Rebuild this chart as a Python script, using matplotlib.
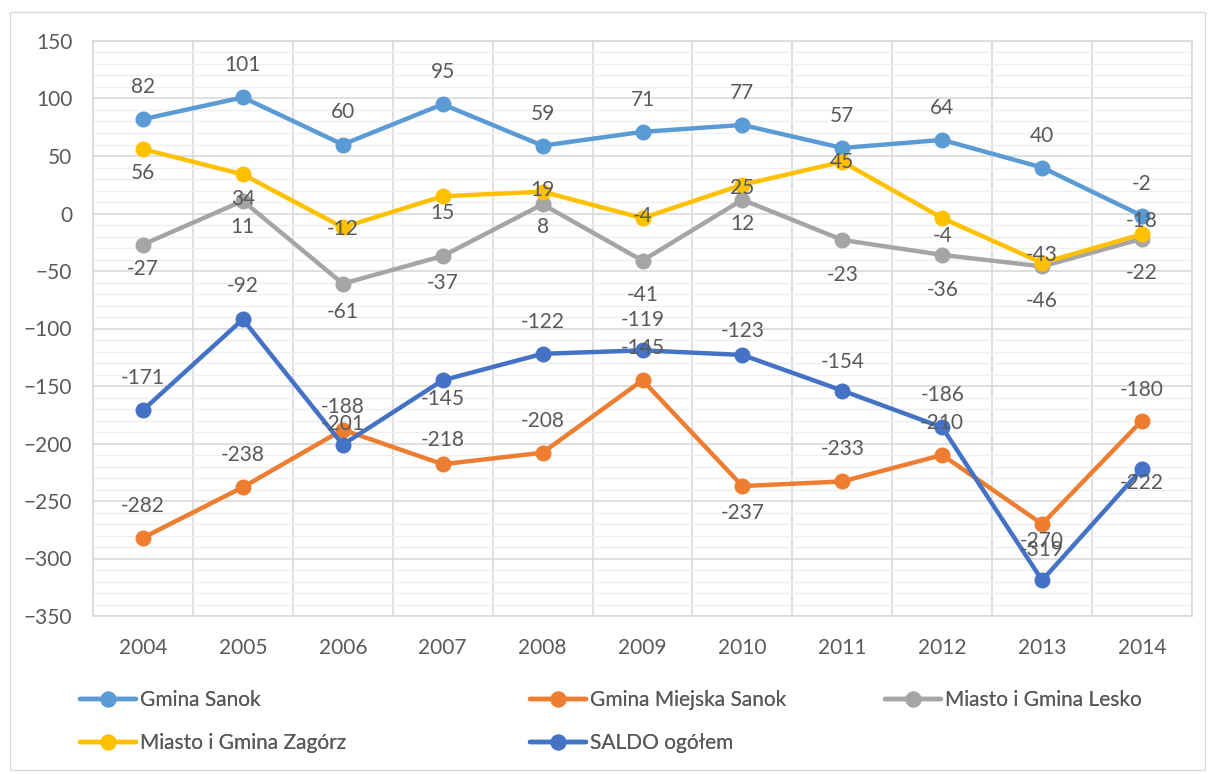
import matplotlib.pyplot as plt
from matplotlib.patches import Rectangle
from matplotlib.ticker import MultipleLocator

plt.rcParams['font.family'] = ['Lato', 'DejaVu Sans']

years = ['2004', '2005', '2006', '2007', '2008', '2009', '2010', '2011', '2012', '2013', '2014']
gmina_sanok = [82, 101, 60, 95, 59, 71, 77, 57, 64, 40, -2]
gmina_miejska = [-282, -238, -188, -218, -208, -145, -237, -233, -210, -270, -180]
lesko = [-27, 11, -61, -37, 8, -41, 12, -23, -36, -46, -22]
zagorz = [56, 34, -12, 15, 19, -4, 25, 45, -4, -43, -18]
saldo = [-171, -92, -201, -145, -122, -119, -123, -154, -186, -319, -222]

# data label shift in pixels (negative = above the point), as placed in the original
off_sanok = [-32] * 11
off_miejska = [-32, -32, -23, -24, -32, -32, 27, -32, -32, 17, -31]
off_lesko = [24, 26, 28, 27, 23, 34, 24, 35, 35, 35, 34]
off_zagorz = [24, 25, 2, 17, -2, -2, 3, 0, 18, -8, -13]
off_saldo = [-32, -33, -21, 19, -32, -30, -24, -29, -32, -30, 14]

series = [
    ("Gmina Sanok", gmina_sanok, "#5B9BD5", off_sanok),
    ("Gmina Miejska Sanok", gmina_miejska, "#ED7D31", off_miejska),
    ("Miasto i Gmina Lesko", lesko, "#A5A5A5", off_lesko),
    ("Miasto i Gmina Zagórz", zagorz, "#FFC000", off_zagorz),
    ("SALDO ogółem", saldo, "#4472C4", off_saldo),
]

txt = "#595959"
fs = 15

fig = plt.figure(figsize=(12.09, 7.74), dpi=100)
fig.patches.append(Rectangle((10 / 1209, 4 / 774), 1195 / 1209, 758 / 774,
                             transform=fig.transFigure, fill=False,
                             edgecolor="#D9D9D9", linewidth=1))
ax = fig.add_axes([93 / 1209, 1 - 616 / 774, 1099 / 1209, 575 / 774])

x = list(range(len(years)))
lines = {}
for name, vals, col, offs in series:
    ln, = ax.plot(x, vals, color=col, linewidth=3.2, marker='o', markersize=10.5,
                  solid_capstyle='round', label=name, zorder=3)
    lines[name] = ln

for name, vals, col, offs in series:
    for xi, v, dy in zip(x, vals, offs):
        ax.annotate(str(v), (xi, v), xytext=(0, -dy), textcoords='offset pixels',
                    ha='center', va='center', fontsize=fs, color=txt, zorder=5)

ax.set_xlim(-0.5, len(years) - 0.5)
ax.set_ylim(-350, 150)
ax.yaxis.set_major_locator(MultipleLocator(50))
ax.yaxis.set_minor_locator(MultipleLocator(10))
ax.set_xticks(x)
ax.set_xticklabels(years)
ax.set_xticks([i + 0.5 for i in range(-1, len(years))], minor=True)

ax.grid(which='major', axis='y', color='#D9D9D9', linewidth=1.2, zorder=0)
ax.grid(which='minor', axis='y', color='#EFEFEF', linewidth=1, zorder=0)
ax.grid(which='minor', axis='x', color='#D9D9D9', linewidth=1.2, zorder=0)
ax.set_axisbelow(True)

ax.tick_params(which='both', length=0, labelsize=fs, labelcolor=txt)
ax.tick_params(axis='y', pad=15)
ax.tick_params(axis='x', pad=16)
for s in ax.spines.values():
    s.set_color('#D9D9D9')
    s.set_linewidth(1.2)

# legend in three columns placed like the original
cols = [
    (["Gmina Sanok", "Miasto i Gmina Zagórz"], 80),
    (["Gmina Miejska Sanok", "SALDO ogółem"], 530),
    (["Miasto i Gmina Lesko"], 885),
]
for names, xpx in cols:
    leg = fig.legend([lines[n] for n in names], names, loc='upper left',
                     bbox_to_anchor=(xpx / 1209, 1 - 690 / 774), frameon=False,
                     fontsize=fs, labelcolor=txt, handlelength=2.7,
                     handletextpad=0.2, labelspacing=1.1, borderpad=0,
                     borderaxespad=0)
    fig.add_artist(leg)

fig.savefig("out.png", dpi=100)
